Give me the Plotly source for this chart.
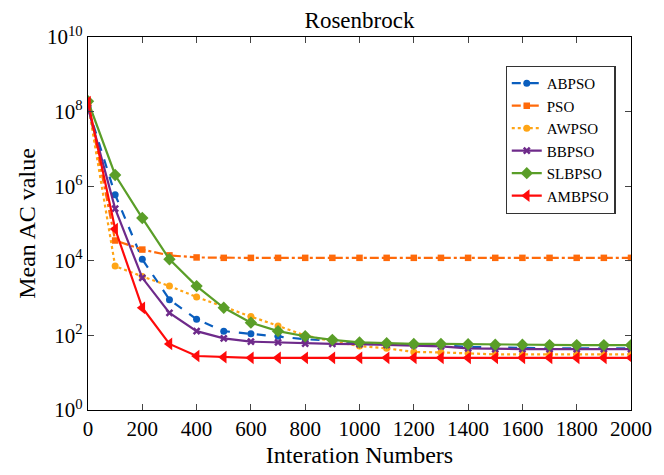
import plotly.graph_objects as go

iterations = list(range(0, 2001, 100))

abpso = [1.26e8, 5.9e5, 1.1e4, 9.1e2, 2.7e2, 1.3e2, 1.1e2, 95, 79, 72, 59, 58, 56, 55, 49, 47, 46, 45, 45, 45, 45]
pso = [1.6e8, 3.5e4, 2.0e4, 1.4e4, 1.23e4, 1.2e4, 1.2e4, 1.2e4, 1.2e4, 1.2e4, 1.2e4, 1.2e4, 1.2e4, 1.2e4, 1.2e4, 1.2e4, 1.2e4, 1.2e4, 1.2e4, 1.2e4, 1.2e4]
awpso = [1.6e8, 7.2e3, 3.8e3, 2.1e3, 1.07e3, 5.8e2, 3.2e2, 1.8e2, 1.0e2, 69, 52, 45, 36, 35, 33, 31, 31, 31, 31, 31, 31]
bbpso = [1.26e8, 2.5e5, 3.5e3, 4.0e2, 1.3e2, 83, 68, 65, 60, 59, 58, 56, 55, 51, 45, 43, 43, 43, 43, 43, 43]
slbpso = [1.9e8, 2.0e6, 1.4e5, 1.1e4, 2.1e3, 5.5e2, 2.2e2, 1.3e2, 95, 76, 65, 62, 59, 59, 58, 56, 56, 55, 55, 55, 55]
ambpso = [1.8e8, 7.1e4, 5.5e2, 59, 28, 26, 25, 25, 25, 25, 25, 25, 25, 25, 25, 25, 25, 25, 25, 25, 25]

series = [
    ("ABPSO", abpso, "#0A5EBE", "dash", "circle", 7),
    ("PSO", pso, "#FF6A0A", "dashdot", "square", 6.5),
    ("AWPSO", awpso, "#FFA516", "dot", "circle", 7),
    ("BBPSO", bbpso, "#6E2A8A", "solid", "x-thin-open", 6),
    ("SLBPSO", slbpso, "#5A9E28", "solid", "diamond", 9.5),
    ("AMBPSO", ambpso, "#FF0A0A", "solid", "triangle-left", 11),
]

ytick_vals = [1, 1e2, 1e4, 1e6, 1e8, 1e10]
ytick_text = ["10<sup>0</sup>", "10<sup>2</sup>", "10<sup>4</sup>", "10<sup>6</sup>", "10<sup>8</sup>", "10<sup>10</sup>"]
xtick_vals = list(range(0, 2001, 200))

fig = go.Figure()
for name, vals, color, dash, sym, size in series:
    mk = dict(symbol=sym, size=size, color=color)
    if sym == "x-thin-open":
        mk["line"] = dict(color=color, width=2.5)
    fig.add_trace(go.Scatter(
        x=iterations, y=vals, name=name, mode="lines+markers",
        line=dict(color=color, width=2.2, dash=dash),
        marker=mk,
    ))

font_family = "Liberation Serif, Times New Roman, serif"
fig.update_layout(
    width=664, height=475,
    margin=dict(l=88, r=26, t=37, b=62),
    paper_bgcolor="white", plot_bgcolor="white",
    font=dict(family=font_family, size=21, color="black"),
    title=dict(text="Rosenbrock", x=0.5, xanchor="center", y=0.958, yanchor="middle",
               xref="paper", font=dict(size=23)),
    showlegend=True,
    legend=dict(x=0.769, y=0.923, xanchor="left", yanchor="top",
                bordercolor="#333", borderwidth=1.2, bgcolor="white",
                font=dict(size=15), tracegroupgap=0, itemwidth=30),
)
fig.update_xaxes(
    range=[0, 2000], tickvals=xtick_vals, ticks="inside", ticklen=6,
    showline=True, linecolor="black", linewidth=1.2, mirror="ticks",
    showgrid=False, zeroline=False, tickfont=dict(size=21),
    title=dict(text="Interation Numbers", font=dict(size=24), standoff=5),
)
fig.update_yaxes(
    type="log", range=[0, 10], tickvals=ytick_vals, ticktext=ytick_text,
    ticks="inside", ticklen=6,
    showline=True, linecolor="black", linewidth=1.2, mirror="ticks",
    showgrid=False, zeroline=False, tickfont=dict(size=21),
    title=dict(text="Mean AC value", font=dict(size=24), standoff=4),
)

fig.write_html("out.html")
